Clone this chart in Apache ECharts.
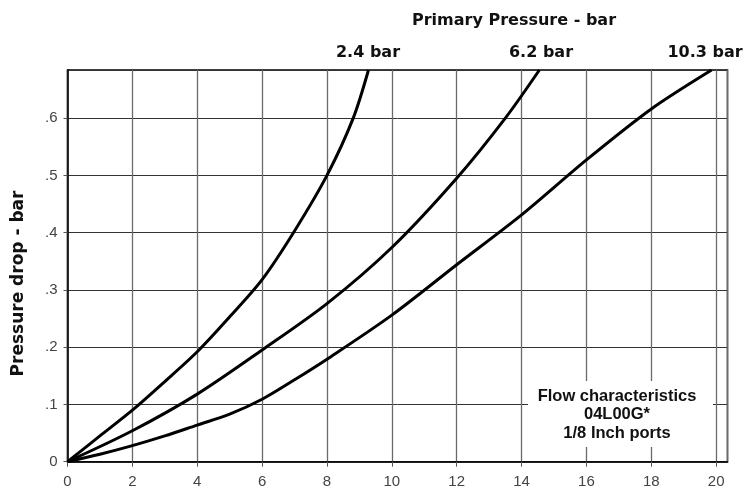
<!DOCTYPE html>
<html>
<head>
<meta charset="utf-8">
<script src="https://cdn.jsdelivr.net/npm/echarts@6/dist/echarts.min.js"></script>
<style>
html,body{margin:0;padding:0;background:#fff;}
#c{width:750px;height:491px;}
</style>
</head>
<body>
<div id="c"></div>
<script>
// ---- data ----
const seriesNames = ['2.4 bar', '6.2 bar', '10.3 bar'];
const flow24 = [0, 1, 2, 3, 4, 5, 6, 7, 8, 8.81, 9.28];
const drop24 = [0, 0.045, 0.09, 0.14, 0.192, 0.253, 0.318, 0.403, 0.5, 0.6, 0.684];
const flow62 = [0, 2, 4, 6, 8, 10, 12, 13.5, 14.55];
const drop62 = [0, 0.054, 0.118, 0.195, 0.276, 0.374, 0.495, 0.6, 0.684];
const flow103 = [0, 1, 2, 3, 4, 5, 6, 7, 8, 10, 12, 14, 16, 18, 19.86];
const drop103 = [0, 0.013, 0.028, 0.045, 0.064, 0.083, 0.109, 0.143, 0.179, 0.256, 0.344, 0.431, 0.527, 0.616, 0.684];
const xTicks = [0, 2, 4, 6, 8, 10, 12, 14, 16, 18, 20];
const yTicks = [0, 0.1, 0.2, 0.3, 0.4, 0.5, 0.6];
const yTickLabels = ['0', '.1', '.2', '.3', '.4', '.5', '.6'];
const titleText = 'Primary Pressure - bar';
const yAxisTitle = 'Pressure drop - bar';
const noteLines = ['Flow characteristics', '04L00G*', '1/8 Inch ports'];

function pairs(xs, ys) { return xs.map((x, i) => [x, ys[i]]); }

const chart = echarts.init(document.getElementById('c'), null, {renderer: 'canvas'});
const boldWide = '"DejaVu Sans", sans-serif';
const helv = '"Liberation Sans", Arial, sans-serif';

const lineSeries = [[flow24, drop24], [flow62, drop62], [flow103, drop103]].map((d, i) => ({
  name: seriesNames[i],
  type: 'line',
  data: pairs(d[0], d[1]),
  smooth: 0.3,
  showSymbol: false,
  symbol: 'none',
  lineStyle: {color: '#000', width: 3},
  z: 5
}));

chart.setOption({
  animation: false,
  backgroundColor: '#fff',
  grid: {left: 67.5, right: 22.5, top: 70, bottom: 29.3, show: true, borderColor: '#000', borderWidth: 1.5, containLabel: false},
  xAxis: {
    type: 'value', min: 0, max: 20.35, interval: 2,
    axisLine: {show: true, lineStyle: {color: '#000', width: 1.5}},
    axisTick: {show: true, length: 5, inside: false, lineStyle: {color: '#555', width: 1}},
    axisLabel: {margin: 13, color: '#444', fontFamily: helv, fontSize: 15, showMaxLabel: false,
      formatter: v => (xTicks.indexOf(v) >= 0 ? String(v) : '')},
    splitLine: {show: true, lineStyle: {color: '#6a6a6a', width: 1.3}}
  },
  yAxis: {
    type: 'value', min: 0, max: 0.684, interval: 0.1,
    axisLine: {show: true, lineStyle: {color: '#000', width: 1.5}},
    axisTick: {show: true, length: 4, lineStyle: {color: '#555', width: 1}},
    axisLabel: {margin: 10, color: '#444', fontFamily: helv, fontSize: 15, showMaxLabel: false,
      formatter: v => { const k = yTicks.findIndex(t => Math.abs(t - v) < 1e-6); return k >= 0 ? yTickLabels[k] : ''; }},
    splitLine: {show: true, lineStyle: {color: '#333', width: 1}}
  },
  series: lineSeries,
  graphic: [
    {type: 'text', x: 514, y: 21, style: {text: titleText, font: 'bold 16px ' + boldWide, fill: '#111', align: 'center', verticalAlign: 'middle'}},
    {type: 'text', x: 368, y: 52.5, style: {text: seriesNames[0], font: 'bold 16px ' + boldWide, fill: '#111', align: 'center', verticalAlign: 'middle'}},
    {type: 'text', x: 541, y: 52.5, style: {text: seriesNames[1], font: 'bold 16px ' + boldWide, fill: '#111', align: 'center', verticalAlign: 'middle'}},
    {type: 'text', x: 705, y: 52.5, style: {text: seriesNames[2], font: 'bold 16px ' + boldWide, fill: '#111', align: 'center', verticalAlign: 'middle'}},
    {type: 'text', x: 18.5, y: 283.5, rotation: Math.PI / 2, style: {text: yAxisTitle, font: 'bold 17px ' + boldWide, fill: '#111', align: 'center', verticalAlign: 'middle'}},
    {type: 'rect', shape: {x: 528, y: 381, width: 185, height: 66}, style: {fill: '#fff'}, z: 10},
    {type: 'text', x: 617, y: 396.7, z: 11, style: {text: noteLines[0], font: 'bold 16.5px ' + helv, fill: '#111', align: 'center', verticalAlign: 'middle'}},
    {type: 'text', x: 617, y: 414.7, z: 11, style: {text: noteLines[1], font: 'bold 16.5px ' + helv, fill: '#111', align: 'center', verticalAlign: 'middle'}},
    {type: 'text', x: 617, y: 433.2, z: 11, style: {text: noteLines[2], font: 'bold 16.5px ' + helv, fill: '#111', align: 'center', verticalAlign: 'middle'}}
  ]
});
</script>
</body>
</html>
